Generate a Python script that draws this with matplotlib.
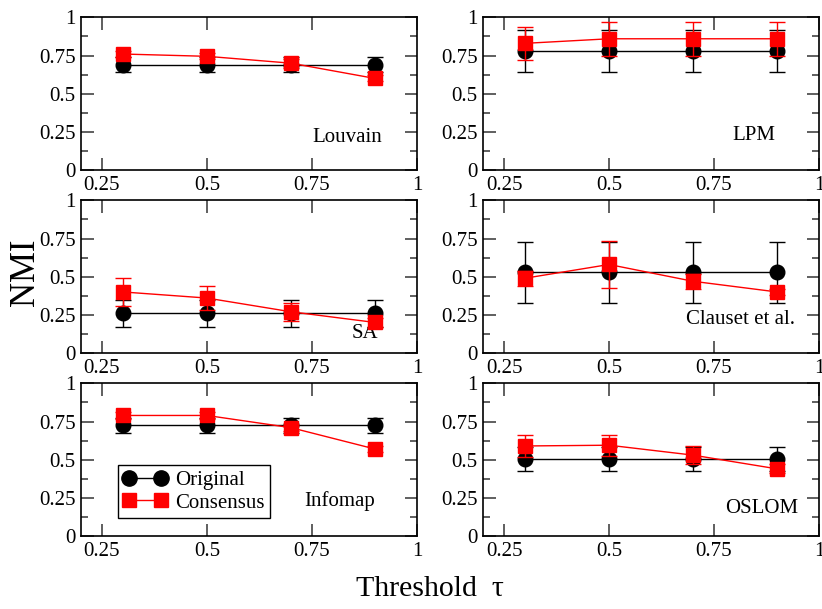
import numpy as np
import matplotlib
matplotlib.use("Agg")
import matplotlib.pyplot as plt
from matplotlib.ticker import MultipleLocator
from matplotlib.lines import Line2D

plt.rcParams['font.family'] = ['Liberation Serif', 'DejaVu Serif']

thresholds = [0.3, 0.5, 0.7, 0.9]

names = ["Louvain", "LPM", "SA", "Clauset et al.", "Infomap", "OSLOM"]

orig_louvain = [0.69, 0.69, 0.69, 0.69]
orig_louvain_err = [0.05, 0.05, 0.05, 0.05]
cons_louvain = [0.76, 0.745, 0.70, 0.60]
cons_louvain_err = [0.02, 0.02, 0.03, 0.02]

orig_lpm = [0.78, 0.78, 0.78, 0.78]
orig_lpm_err = [0.135, 0.135, 0.135, 0.135]
cons_lpm = [0.83, 0.86, 0.86, 0.86]
cons_lpm_err = [0.11, 0.11, 0.11, 0.11]

orig_sa = [0.26, 0.26, 0.26, 0.26]
orig_sa_err = [0.09, 0.09, 0.09, 0.09]
cons_sa = [0.40, 0.36, 0.27, 0.20]
cons_sa_err = [0.09, 0.08, 0.06, 0.03]

orig_clauset = [0.53, 0.53, 0.53, 0.53]
orig_clauset_err = [0.20, 0.20, 0.20, 0.20]
cons_clauset = [0.49, 0.58, 0.47, 0.40]
cons_clauset_err = [0.05, 0.155, 0.05, 0.02]

orig_infomap = [0.725, 0.725, 0.725, 0.725]
orig_infomap_err = [0.05, 0.05, 0.05, 0.05]
cons_infomap = [0.79, 0.79, 0.71, 0.57]
cons_infomap_err = [0.02, 0.02, 0.02, 0.02]

orig_oslom = [0.505, 0.505, 0.505, 0.505]
orig_oslom_err = [0.08, 0.08, 0.08, 0.08]
cons_oslom = [0.59, 0.595, 0.53, 0.44]
cons_oslom_err = [0.07, 0.07, 0.06, 0.03]

panels = [
    (orig_louvain, orig_louvain_err, cons_louvain, cons_louvain_err),
    (orig_lpm, orig_lpm_err, cons_lpm, cons_lpm_err),
    (orig_sa, orig_sa_err, cons_sa, cons_sa_err),
    (orig_clauset, orig_clauset_err, cons_clauset, cons_clauset_err),
    (orig_infomap, orig_infomap_err, cons_infomap, cons_infomap_err),
    (orig_oslom, orig_oslom_err, cons_oslom, cons_oslom_err),
]

# where the method name sits in each panel (axes fraction, right edge)
label_pos = [(0.896, 0.216), (0.869, 0.229), (0.884, 0.13),
             (0.929, 0.217), (0.875, 0.23), (0.9375, 0.178)]

fig = plt.figure(figsize=(8.22, 6.09), dpi=100)

lefts = [0.0985, 0.5876]
bottoms = [0.7209, 0.4204, 0.1199]
w, h = 0.4088, 0.2505

for i, (name, (o, oe, c, ce)) in enumerate(zip(names, panels)):
    row, col = divmod(i, 2)
    ax = fig.add_axes([lefts[col], bottoms[row], w, h])
    ax.errorbar(thresholds, o, yerr=oe, color='black', marker='o', markersize=10.5,
                lw=1.0, elinewidth=1.0, capsize=6, capthick=1.0, zorder=2)
    ax.errorbar(thresholds, c, yerr=ce, color='#ff0000', marker='s', markersize=9.5,
                lw=1.0, elinewidth=1.0, capsize=6, capthick=1.0, zorder=3)
    ax.set_xlim(0.2, 1.0)
    ax.set_ylim(0, 1)
    ax.yaxis.set_minor_locator(MultipleLocator(0.125))
    ax.set_xticks([0.25, 0.5, 0.75, 1.0])
    ax.set_xticklabels(['0.25', '0.5', '0.75', '1'])
    ax.set_yticks([0, 0.25, 0.5, 0.75, 1.0])
    ax.set_yticklabels(['0', '0.25', '0.5', '0.75', '1'])
    ax.tick_params(which='major', direction='in', length=9, width=1.2, color='#444444',
                   top=True, right=True, labelsize=15, pad=4)
    ax.tick_params(which='minor', direction='in', length=5, width=1.2, color='#444444',
                   top=False, right=True)
    for s in ax.spines.values():
        s.set_linewidth(1.2)
    tx, ty = label_pos[i]
    ax.text(tx, ty, name, transform=ax.transAxes, ha='right', va='center', fontsize=15)
    if name == "Infomap":
        handles = [Line2D([], [], color='black', marker='o', markersize=11, lw=1.0),
                   Line2D([], [], color='#ff0000', marker='s', markersize=10, lw=1.0)]
        leg = ax.legend(handles, ['Original', 'Consensus'], loc='lower left',
                        bbox_to_anchor=(0.11, 0.118), fontsize=15,
                        numpoints=2, handlelength=2.1, fancybox=False, framealpha=1,
                        edgecolor='black', borderpad=0.25, labelspacing=0.15,
                        handletextpad=0.4, borderaxespad=0)
        leg.get_frame().set_linewidth(1.0)

fig.text(0.031, 0.553, 'NMI', rotation=90, ha='center', va='center', fontsize=25)
fig.text(0.523, 0.033, 'Threshold  τ', ha='center', va='center', fontsize=21.5)

fig.savefig('out.png', dpi=100)
